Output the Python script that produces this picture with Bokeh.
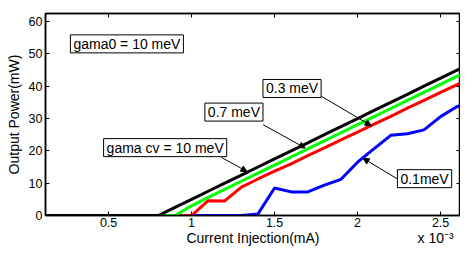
from bokeh.plotting import figure
from bokeh.models import (Range1d, LinearAxis, Label, Arrow, NormalHead, FixedTicker,
                          CustomJSTickFormatter)
from bokeh.embed import file_html
from bokeh.resources import INLINE

# Current injection (x 10^-3 mA)
current = [0.1, 0.2, 0.3, 0.4, 0.5, 0.6, 0.7, 0.8, 0.9, 1.0, 1.1, 1.2, 1.3,
           1.4, 1.5, 1.6, 1.7, 1.8, 1.9, 2.0, 2.1, 2.2, 2.3, 2.4, 2.5, 2.6, 2.7]

# Output power (mW) for the four gama cv values
p_10 = [0, 0, 0, 0, 0, 0, 0, 0, 2.5, 5.0, 7.5, 10.0, 12.5, 15.0, 17.5, 20.0, 22.5,
        25.0, 27.5, 30.0, 32.5, 35.0, 37.5, 40.0, 42.5, 45.0, 47.5]
p_07 = [0, 0, 0, 0, 0, 0, 0, 0, 0, 3.0, 5.6, 8.1, 10.6, 13.1, 15.6, 18.1, 20.6,
        23.1, 25.6, 28.1, 30.6, 33.1, 35.6, 38.1, 40.6, 43.1, 45.6]
p_03 = [0, 0, 0, 0, 0, 0, 0, 0, 0, 0, 4.6, 4.5, 8.8, 11.3, 13.7, 16.0, 18.5,
        20.9, 23.4, 25.8, 28.3, 30.7, 33.2, 35.6, 38.1, 40.5, 43.0]
p_01 = [0, 0, 0, 0, 0, 0, 0, 0, 0, 0, 0, 0, 0, 0.5, 8.5, 7.3, 7.3,
        9.4, 11.2, 16.5, 20.7, 24.8, 25.3, 26.5, 30.6, 33.7, 35.5]

x_ticks = [0.5, 1.0, 1.5, 2.0, 2.5]
x_tick_labels = ["0.5", "1", "1.5", "2", "2.5"]
y_ticks = [0, 10, 20, 30, 40, 50, 60]
x_title = "Current Injection(mA)"
x_multiplier = "x 10\u207b\u00b3"

FONT = "Liberation Sans"
X0, X1 = 0.12, 2.62

p = figure(width=460, height=248, output_backend="svg", toolbar_location=None,
           x_range=Range1d(X0, X1), y_range=Range1d(0, 62.5),
           min_border_left=45, min_border_right=0, min_border_top=13, min_border_bottom=0)
p.xgrid.visible = False
p.ygrid.visible = False
p.outline_line_color = "black"
p.outline_line_width = 1.5
p.background_fill_color = "white"
p.border_fill_color = "white"

for ax in p.xaxis + p.yaxis:
    ax.major_tick_in = 4
    ax.major_tick_out = 0
    ax.minor_tick_line_color = None
    ax.axis_line_width = 1.5
    ax.major_tick_line_width = 1
    ax.major_label_text_font = FONT
    ax.major_label_text_font_size = "12.5px"
    ax.major_label_text_color = "black"
    ax.axis_label_text_font = FONT
    ax.axis_label_text_font_size = "14px"
    ax.axis_label_text_font_style = "normal"
    ax.axis_label_text_color = "black"

p.xaxis.ticker = FixedTicker(ticks=x_ticks)
p.yaxis.ticker = FixedTicker(ticks=y_ticks)
p.xaxis.major_label_overrides = dict(zip(x_ticks, x_tick_labels))
p.yaxis.axis_label = "Output Power(mW)"
p.xaxis.major_label_standoff = 2
p.yaxis.major_label_standoff = 3
p.yaxis.axis_label_standoff = 4

# second row under the x axis: the axis title and the x 10^-3 multiplier
title_pos = [(X0 + X1) / 2, 2.47]
title_axis = LinearAxis(ticker=FixedTicker(ticks=title_pos),
                        major_label_overrides={title_pos[0]: x_title, title_pos[1]: x_multiplier},
                        axis_line_color=None, major_tick_line_color=None,
                        minor_tick_line_color=None, major_tick_in=0, major_tick_out=0,
                        major_label_standoff=0, major_label_text_font=FONT,
                        major_label_text_font_size="14px", major_label_text_color="black")
p.add_layout(title_axis, "below")

blank = CustomJSTickFormatter(code="return ''")
top = LinearAxis(ticker=FixedTicker(ticks=x_ticks), formatter=blank,
                 major_label_text_font_size="1px",
                 major_tick_in=4, major_tick_out=0, minor_tick_line_color=None,
                 major_label_standoff=0, axis_line_width=1.5)
right = LinearAxis(ticker=FixedTicker(ticks=y_ticks), formatter=blank,
                   major_label_text_font_size="1px",
                   major_tick_in=4, major_tick_out=0, minor_tick_line_color=None,
                   major_label_standoff=0, axis_line_width=1.5)
p.add_layout(top, "above")
p.add_layout(right, "right")

p.line(current, p_01, color="#0000ff", line_width=3)
p.line(current, p_03, color="#ff0000", line_width=3)
p.line(current, p_07, color="#00ff00", line_width=3)
p.line(current, p_10, color="#000000", line_width=3)

def box(x, y, txt):
    p.add_layout(Label(x=x, y=y, text=txt, text_font=FONT, text_font_size="14px",
                       text_align="left", text_baseline="middle", text_color="black",
                       background_fill_color="white", border_line_color="black",
                       border_line_width=1, padding=dict(left=3, right=3, top=1, bottom=1)))

box(0.27, 53.1, "gama0 = 10 meV")
box(1.08, 32.0, "0.7 meV")
box(1.43, 39.3, "0.3 meV")
box(0.47, 21.0, "gama cv = 10 meV")
box(2.24, 11.4, "0.1meV")

def arrow(x0, y0, x1, y1):
    p.add_layout(Arrow(end=NormalHead(size=6, fill_color="black", line_color="black", line_width=1),
                       x_start=x0, y_start=y0, x_end=x1, y_end=y1,
                       line_color="black", line_width=1))

arrow(1.431, 28.1, 1.684, 20.9)
arrow(1.781, 36.9, 2.082, 27.8)
arrow(1.179, 18.0, 1.334, 13.6)
arrow(2.237, 11.4, 2.033, 17.7)

open("out.html", "w").write(file_html(p, INLINE))
